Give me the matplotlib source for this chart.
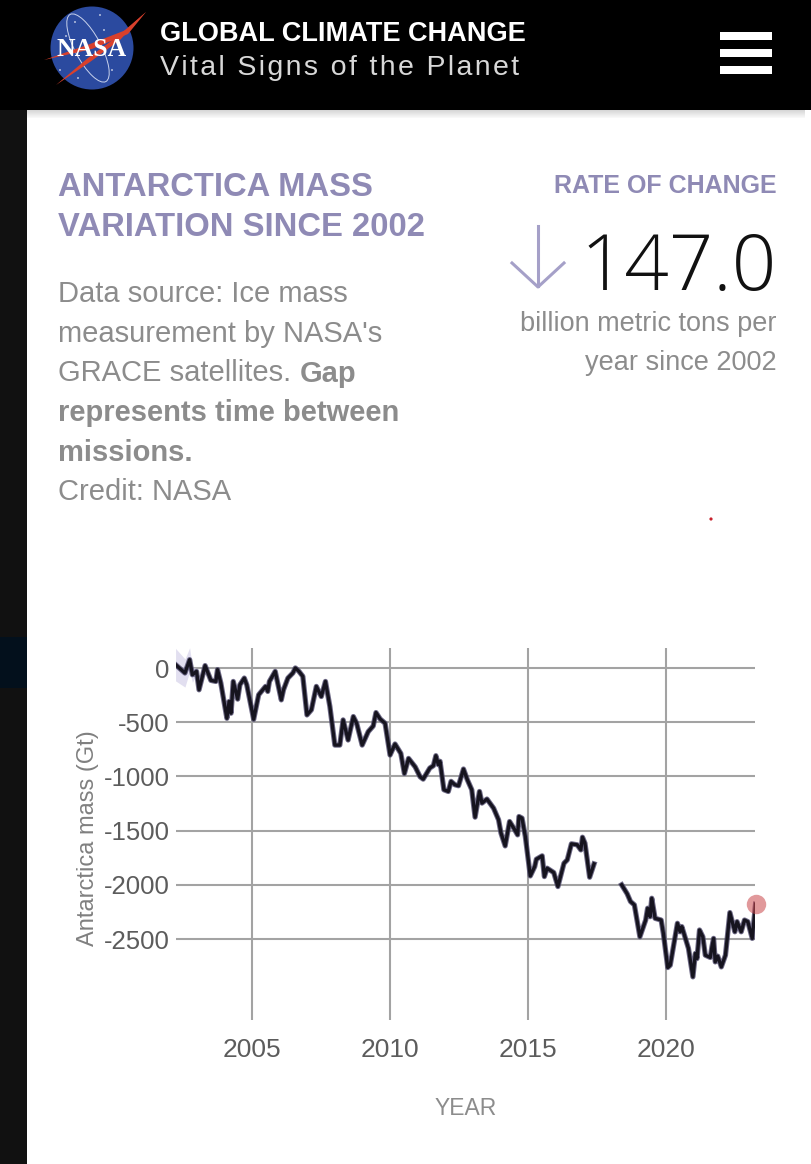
import numpy as np
import matplotlib
matplotlib.use("Agg")
import matplotlib.pyplot as plt
from matplotlib.patches import Circle, Ellipse, Polygon, Rectangle

plt.rcParams['font.family'] = ['Liberation Sans', 'DejaVu Sans']

# mass record, GRACE
years_a = [2002.23, 2002.57, 2002.74, 2002.84, 2002.99, 2003.08, 2003.30, 2003.51, 2003.69, 2003.75,
           2003.87, 2004.09, 2004.17, 2004.24, 2004.32, 2004.48, 2004.56, 2004.72, 2004.81, 2005.06,
           2005.24, 2005.49, 2005.57, 2005.63, 2005.84, 2006.06, 2006.14, 2006.30, 2006.48, 2006.57,
           2006.70, 2006.84, 2006.99, 2007.15, 2007.33, 2007.51, 2007.66, 2007.82, 2008.00, 2008.18,
           2008.30, 2008.48, 2008.67, 2008.79, 2008.99, 2009.21, 2009.39, 2009.49, 2009.64, 2009.82,
           2010.00, 2010.18, 2010.39, 2010.52, 2010.67, 2010.91, 2011.09, 2011.20, 2011.44, 2011.57,
           2011.66, 2011.75, 2011.81, 2011.95, 2012.11, 2012.21, 2012.35, 2012.48, 2012.66, 2012.80,
           2012.96, 2013.08, 2013.24, 2013.33, 2013.51, 2013.75, 2013.93, 2014.02, 2014.17, 2014.33,
           2014.48, 2014.62, 2014.67, 2014.78, 2014.90, 2015.08, 2015.24, 2015.30, 2015.51, 2015.59,
           2015.69, 2015.93, 2016.08, 2016.30, 2016.42, 2016.57, 2016.78, 2016.91, 2016.97, 2017.06,
           2017.23, 2017.39]
mass_a = [31, -46, 77, -62, -31, -201, 22, -114, -124, -15,
          -139, -464, -309, -417, -124, -287, -155, -93, -155, -473,
          -247, -170, -216, -124, -31, -294, -201, -93, -46, 0,
          -31, -77, -433, -386, -170, -263, -124, -355, -711, -711,
          -479, -664, -448, -510, -711, -587, -535, -411, -470, -510,
          -803, -701, -788, -973, -834, -912, -1004, -1025, -923, -901,
          -809, -892, -861, -1123, -1139, -1046, -1077, -1086, -932, -1031,
          -1123, -1376, -1139, -1246, -1209, -1293, -1400, -1524, -1641, -1416,
          -1477, -1539, -1370, -1385, -1554, -1918, -1832, -1764, -1733, -1924,
          -1847, -1887, -2016, -1801, -1770, -1622, -1631, -1678, -1561, -1616,
          -1930, -1807]

# GRACE-FO
years_b = [2018.39, 2018.59, 2018.71, 2018.85, 2019.05, 2019.26, 2019.33, 2019.42, 2019.48, 2019.60,
           2019.82, 2019.90, 2020.06, 2020.15, 2020.41, 2020.51, 2020.57, 2020.81, 2020.97, 2021.06,
           2021.12, 2021.21, 2021.33, 2021.42, 2021.60, 2021.66, 2021.72, 2021.78, 2021.87, 2022.00,
           2022.15, 2022.31, 2022.49, 2022.57, 2022.72, 2022.84, 2022.96, 2023.12, 2023.24]
mass_b = [-2000, -2083, -2154, -2185, -2479, -2325, -2216, -2294, -2124, -2309,
          -2325, -2448, -2763, -2741, -2355, -2433, -2386, -2587, -2849, -2633,
          -2680, -2417, -2479, -2649, -2670, -2572, -2494, -2711, -2658, -2757,
          -2649, -2256, -2433, -2340, -2433, -2325, -2340, -2494, -2179]

# the pale band round the first points
band_years = [2002.23, 2002.57, 2002.74, 2002.84, 2002.99]
band_err = [150, 130, 110, 70, 30]

x_ticks = [2005, 2010, 2015, 2020]
x_labels = ['2005', '2010', '2015', '2020']
y_ticks = [0, -500, -1000, -1500, -2000, -2500]
y_labels = ['0', '-500', '-1000', '-1500', '-2000', '-2500']

body_lines = ["Data source: Ice mass", "measurement by NASA's", "GRACE satellites."]
PURPLE = '#8f8ab5'
GREY = '#8c8c8c'
W, H = 811, 1164

fig = plt.figure(figsize=(W / 100, H / 100), dpi=100, facecolor='white')

# page furniture, drawn in pixel coordinates
bg = fig.add_axes([0, 0, 1, 1])
bg.set_xlim(0, W)
bg.set_ylim(H, 0)
bg.axis('off')
bg.add_patch(Rectangle((0, 0), 27, H, color='#111111', lw=0))
bg.add_patch(Rectangle((0, 637), 27, 51, color='#03101c', lw=0))
bg.add_patch(Rectangle((0, 0), W, 110, color='black', lw=0))
for i in range(8):
    bg.add_patch(Rectangle((27, 110 + i), W - 27 - 6, 1, color='#b0b0b0', alpha=0.5 - i * 0.06, lw=0))

# logo
bg.add_patch(Circle((92, 48), 41.5, color='#2b4a9f', lw=0))
bg.add_patch(Ellipse((88, 48), 26, 76, angle=-28, fill=False, ec='#c8d2ec', lw=0.7))
for sx, sy in [(75, 22), (100, 15), (60, 70), (112, 70), (78, 78), (120, 34), (66, 36), (104, 30)]:
    bg.add_patch(Circle((sx, sy), 0.8, color='white', lw=0))
bg.add_patch(Polygon([(146, 12), (120, 40), (90, 62), (56, 85), (88, 58), (118, 36)], color='#d8402c', lw=0))
bg.add_patch(Polygon([(44, 60), (90, 44), (126, 30), (146, 12), (128, 34), (92, 49)], color='#d8402c', lw=0))
bg.text(92, 50, 'NASA', color='white', fontsize=18.5, fontweight='bold', family='Liberation Serif',
        ha='center', va='center')

# hamburger
for by in [32, 49, 66]:
    bg.add_patch(Rectangle((720, by), 52, 7.5, color='white', lw=0))

bg.text(160, 34, 'GLOBAL CLIMATE CHANGE', color='white', fontsize=19.5, fontweight='bold', va='center')
bg.text(160, 68, '\u200a'.join('Vital Signs of the Planet'), color='#d8d8d8', fontsize=20.5, va='center')

# headings
bg.text(58, 187, 'ANTARCTICA MASS', color=PURPLE, fontsize=23.6, fontweight='bold', va='center')
bg.text(58, 227, 'VARIATION SINCE 2002', color=PURPLE, fontsize=23.6, fontweight='bold', va='center')
for i, line in enumerate(body_lines):
    bg.text(58, 294 + i * 39.7, line, color=GREY, fontsize=21, va='center')
bg.text(300, 373.5, 'Gap', color=GREY, fontsize=21, fontweight='bold', va='center')
bg.text(58, 413, 'represents time between', color=GREY, fontsize=21, fontweight='bold', va='center')
bg.text(58, 453, 'missions.', color=GREY, fontsize=21, fontweight='bold', va='center')
bg.text(58, 492, 'Credit: NASA', color=GREY, fontsize=21, va='center')

bg.text(777, 186, 'RATE OF CHANGE', color=PURPLE, fontsize=18, fontweight='bold', ha='right', va='center')
bg.text(777, 270, '147.0', color='#111111', fontsize=56, family='Open Sans', fontweight='light',
        ha='right', va='center')
bg.text(777, 324, 'billion metric tons per', color=GREY, fontsize=19.5, ha='right', va='center')
bg.text(777, 363, 'year since 2002', color=GREY, fontsize=19.5, ha='right', va='center')
bg.plot([538, 538], [226, 286], color='#a5a0c8', lw=2.2)
bg.plot([512, 538, 564], [263, 287, 263], color='#a5a0c8', lw=2.2)
bg.add_patch(Circle((711, 519), 1.6, color='#c8202c', lw=0))

# chart
ax = fig.add_axes([176 / W, 1 - 1020 / H, 579 / W, 372 / H], facecolor='none')
ax.set_xlim(2002.246, 2023.22)
ax.set_ylim(-3247, 184.5)
for s in ax.spines.values():
    s.set_visible(False)
ax.set_xticks(x_ticks)
ax.set_xticklabels(x_labels)
ax.set_yticks(y_ticks)
ax.set_yticklabels(y_labels)
ax.tick_params(length=0, labelcolor='#5c5c5c')
ax.tick_params(axis='x', labelsize=19, pad=13)
ax.tick_params(axis='y', labelsize=18.5, pad=4.5)
ax.grid(True, color='#a3a3a3', lw=1.5)
ax.set_axisbelow(True)

ax.fill_between(band_years, np.array(mass_a[:5]) - band_err, np.array(mass_a[:5]) + band_err,
                color='#cfcbe6', alpha=0.6, lw=0, clip_on=False)
for yrs, vals in [(years_a, mass_a), (years_b, mass_b)]:
    ax.plot(yrs, vals, color='#4a4568', lw=3.8, solid_joinstyle='round', alpha=0.8)
    ax.plot(yrs, vals, color='#16141f', lw=2.4, solid_joinstyle='round')
ax.plot([years_b[-1]], [mass_b[-1]], 'o', ms=14, color='#c9454a', alpha=0.55, mew=0, clip_on=False)

ax.set_xlabel('YEAR', color=GREY, fontsize=16.5, labelpad=25)
ax.set_ylabel('Antarctica mass (Gt)', color='#808080', fontsize=17)
ax.yaxis.set_label_coords((99 - 176) / 579, 1 - (838 - 648) / 372)

fig.savefig('out.png', dpi=100)
